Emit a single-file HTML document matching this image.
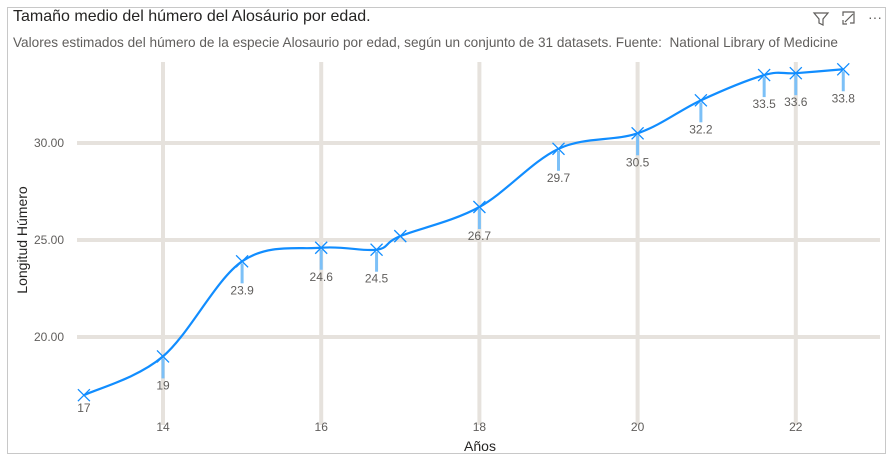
<!DOCTYPE html>
<html><head><meta charset="utf-8"><style>
body{margin:0;background:#fff;font-family:"Liberation Sans","DejaVu Sans",sans-serif;}
#wrap{position:relative;width:896px;height:456px;overflow:hidden;background:#fff}
.frame{position:absolute;left:7px;top:7px;width:877px;height:445px;border:1px solid #c8c8c8}
.title{position:absolute;left:13px;top:8px;font-size:16px;color:#252423}
.sub{position:absolute;left:13px;top:35px;font-size:13.6px;color:#605e5c;white-space:nowrap}
</style></head><body>
<div id="wrap">
<div class="frame"></div>
<div class="title">Tamaño medio del húmero del Alosáurio por edad.</div>
<div class="sub">Valores estimados del húmero de la especie Alosaurio por edad, según un conjunto de 31 datasets. Fuente:&nbsp; National Library of Medicine</div>
<svg id="chart" width="896" height="456" style="position:absolute;left:0;top:0">
<g stroke="#605e5c" fill="none" stroke-width="1.2">
<path d="M814 13 h14 l-5 6 v6 l-4 -2 v-4 z"/>
<path d="M843 16 v-4 h11 v11 h-4 M843 20 v4 h4 M845 22 l8 -8"/>
<text x="868" y="22" font-size="14" fill="#605e5c" stroke="none">···</text>
</g>
</svg>
</div>
<script>
const years=[13,14,15,16,16.7,17,18,19,20,20.8,21.6,22,22.6];
const values=[17,19,23.9,24.6,24.5,25.2,26.7,29.7,30.5,32.2,33.5,33.6,33.8];
const labels=["17","19","23.9","24.6","24.5","","26.7","29.7","30.5","32.2","33.5","33.6","33.8"];
const xTicks=[14,16,18,20,22];
const yTicks=[20,25,30];
const xs=v=>163+(v-14)*79.1;
const ys=v=>143-(v-30)*19.4;
const svg=document.getElementById('chart');
const NS='http://www.w3.org/2000/svg';
function mk(t,a){const e=document.createElementNS(NS,t);for(const k in a)e.setAttribute(k,a[k]);svg.appendChild(e);return e;}
xTicks.forEach(t=>{
 const l=mk('line',{x1:xs(t),x2:xs(t),y1:62,y2:425,stroke:'#e6e2dd','stroke-width':4});
 
 
 const tx=mk('text',{x:xs(t),y:431,'font-size':12,fill:'#605e5c','text-anchor':'middle'});tx.textContent=t;
 
 
});
yTicks.forEach(t=>{
 const l=mk('line',{x1:77,x2:880,y1:ys(t),y2:ys(t),stroke:'#e6e2dd','stroke-width':4});
 
 
 const tx=mk('text',{x:64,y:ys(t)+4,'font-size':12,fill:'#605e5c','text-anchor':'end'});tx.textContent=t.toFixed(2);
 
 
});
const xt=mk('text',{x:480,y:451,'font-size':14,fill:'#252423','text-anchor':'middle'});xt.textContent='Años';


const yt=mk('text',{x:27,y:240,'font-size':14,fill:'#252423','text-anchor':'middle',transform:'rotate(-90 27 240)'});yt.textContent='Longitud Húmero';


years.forEach((y,i)=>{
 if(i===0||!labels[i])return;
 const x=xs(y),py=ys(values[i]);
 const b=mk('line',{x1:x,x2:x,y1:py+2,y2:py+22,stroke:'#7cc0f7','stroke-width':3});
 
 
});
const P=years.map((y,i)=>[xs(y),ys(values[i])]);
let d='M'+P[0][0]+' '+P[0][1];
for(let i=0;i<P.length-1;i++){
 const p0=P[i-1]||P[i],p1=P[i],p2=P[i+1],p3=P[i+2]||P[i+1];
 const c1=[p1[0]+(p2[0]-p0[0])/6,p1[1]+(p2[1]-p0[1])/6];
 const c2=[p2[0]-(p3[0]-p1[0])/6,p2[1]-(p3[1]-p1[1])/6];
 d+=` C${c1[0]} ${c1[1]} ${c2[0]} ${c2[1]} ${p2[0]} ${p2[1]}`;
}
const ln=mk('path',{d:d,fill:'none',stroke:'#118dff','stroke-width':2.2});


years.forEach((y,i)=>{
 const x=xs(y),py=ys(values[i]);
 const m=mk('path',{d:`M${x-6} ${py-6}L${x+6} ${py+6}M${x-6} ${py+6}L${x+6} ${py-6}`,stroke:'#118dff','stroke-width':1.3});
 
 
 if(labels[i]){
  const t=mk('text',{x:x,y:py+(i==0?17:33),'font-size':12,fill:'#605e5c','text-anchor':'middle'});t.textContent=labels[i];
  
  
 }
});
</script>
</body></html>
